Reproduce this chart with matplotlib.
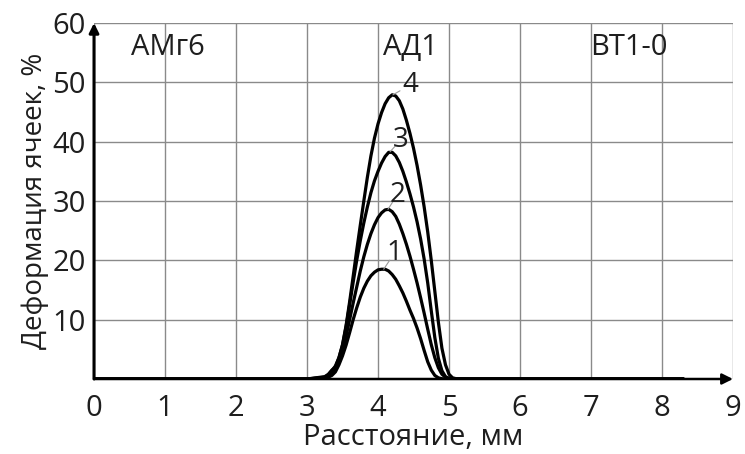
import matplotlib
matplotlib.use('Agg')
import matplotlib.pyplot as plt

plt.rcParams['font.family'] = ['Open Sans', 'DejaVu Sans']

# Расстояние, мм (общая сетка для всех кривых)
x = [0.0, 3.00, 3.25, 3.30, 3.35, 3.40, 3.45, 3.50, 3.55, 3.60, 3.65, 3.70, 3.75,
     3.80, 3.85, 3.90, 3.95, 4.00, 4.05, 4.10, 4.15, 4.20, 4.25, 4.30, 4.35,
     4.40, 4.45, 4.50, 4.55, 4.60, 4.65, 4.70, 4.75, 4.80, 4.85, 4.90, 4.95,
     5.00, 5.05, 5.10, 5.30, 8.30]

# Деформация ячеек, % для кривых 1-4
y1 = [0, 0, 0.1, 0.3, 0.6, 1.2, 2.4, 3.9, 5.7, 7.8, 10.0, 12.0, 13.8,
      15.3, 16.5, 17.4, 18.0, 18.4, 18.5, 18.5, 18.2, 17.6, 16.8, 15.7, 14.5,
      13.1, 11.6, 10.2, 8.6, 6.8, 4.8, 2.9, 1.5, 0.6, 0.2, 0.05, 0,
      0, 0, 0, 0, 0]
y2 = [0, 0, 0.2, 0.5, 1.0, 1.8, 3.0, 4.8, 7.2, 10.0, 12.8, 15.5, 18.2,
      20.6, 22.7, 24.5, 26.0, 27.2, 28.0, 28.5, 28.6, 28.2, 27.4, 26.1, 24.5,
      22.7, 20.7, 18.5, 16.2, 13.7, 11.1, 8.4, 5.8, 3.6, 1.9, 0.8, 0.3,
      0.1, 0, 0, 0, 0]
y3 = [0, 0, 0.3, 0.7, 1.4, 2.2, 3.6, 5.7, 8.8, 12.5, 16.3, 20.0, 23.3,
      26.3, 29.0, 31.4, 33.4, 35.0, 36.4, 37.5, 38.2, 38.2, 37.6, 36.5, 35.0,
      33.2, 31.2, 29.0, 26.5, 23.6, 20.2, 16.2, 11.5, 7.0, 3.5, 1.4, 0.4,
      0.1, 0, 0, 0, 0]
y4 = [0, 0, 0.4, 0.8, 1.5, 2.0, 3.6, 5.8, 9.0, 13.0, 17.3, 21.7, 25.9,
      30.0, 34.0, 37.6, 40.6, 43.0, 44.9, 46.4, 47.4, 47.9, 47.7, 46.9, 45.5,
      43.6, 41.4, 38.9, 36.0, 32.7, 29.0, 24.8, 20.0, 14.8, 9.6, 5.2, 2.4,
      0.8, 0.2, 0.05, 0, 0]

curves = [y1, y2, y3, y4]
curve_labels = ['1', '2', '3', '4']
peak_x = [4.08, 4.14, 4.17, 4.21]
peak_y = [18.5, 28.6, 38.3, 47.9]
label_x = [4.23, 4.27, 4.32, 4.46]
label_y = [21.2, 31.0, 40.3, 49.6]

materials = ['АМг6', 'АД1', 'ВТ1-0']
material_x = [1.04, 4.46, 7.53]

fig = plt.figure(figsize=(7.45, 4.54), dpi=100)
ax = fig.add_axes([0.1262, 0.1652, 0.8577, 0.7841])

# Сетка
ax.set_xlim(0, 9)
ax.set_ylim(0, 60)
ax.set_xticks(range(0, 10))
ax.set_yticks(range(10, 61, 10))
ax.grid(True, color='#8a8a8a', linewidth=1.0)
ax.set_axisbelow(True)
ax.tick_params(length=0, labelsize=21, colors='#1e1e1e')
ax.tick_params(axis='x', pad=11)
ax.tick_params(axis='y', pad=6)
for s in ax.spines.values():
    s.set_visible(False)

# Кривые
for yy in curves:
    ax.plot(x, yy, color='black', linewidth=2.3, solid_capstyle='round', zorder=3)

# Оси со стрелками
ax.annotate('', xy=(9, 0), xytext=(0, 0), annotation_clip=False,
            arrowprops=dict(arrowstyle='-|>', color='black', lw=1.8,
                            mutation_scale=16, shrinkA=0, shrinkB=0))
ax.annotate('', xy=(0, 60), xytext=(0, 0), annotation_clip=False,
            arrowprops=dict(arrowstyle='-|>', color='black', lw=2.2,
                            mutation_scale=14, shrinkA=0, shrinkB=0))

# Номера кривых
for lbl, px, py, lx, ly in zip(curve_labels, peak_x, peak_y, label_x, label_y):
    ax.annotate(lbl, xy=(px, py), xytext=(lx, ly), fontsize=20, color='#1e1e1e',
                ha='center', va='center', zorder=4,
                arrowprops=dict(arrowstyle='-', color='#999999', lw=0.8,
                                shrinkA=6, shrinkB=0))

# Материалы
for name, mx in zip(materials, material_x):
    ax.text(mx, 55.8, name, fontsize=21, ha='center', va='center', color='#1e1e1e')

ax.set_xlabel('Расстояние, мм', fontsize=21, color='#1e1e1e', labelpad=0)
ax.set_ylabel('Деформация ячеек, %', fontsize=20, color='#1e1e1e', labelpad=2)

plt.savefig('out.png', dpi=100)
plt.close()
